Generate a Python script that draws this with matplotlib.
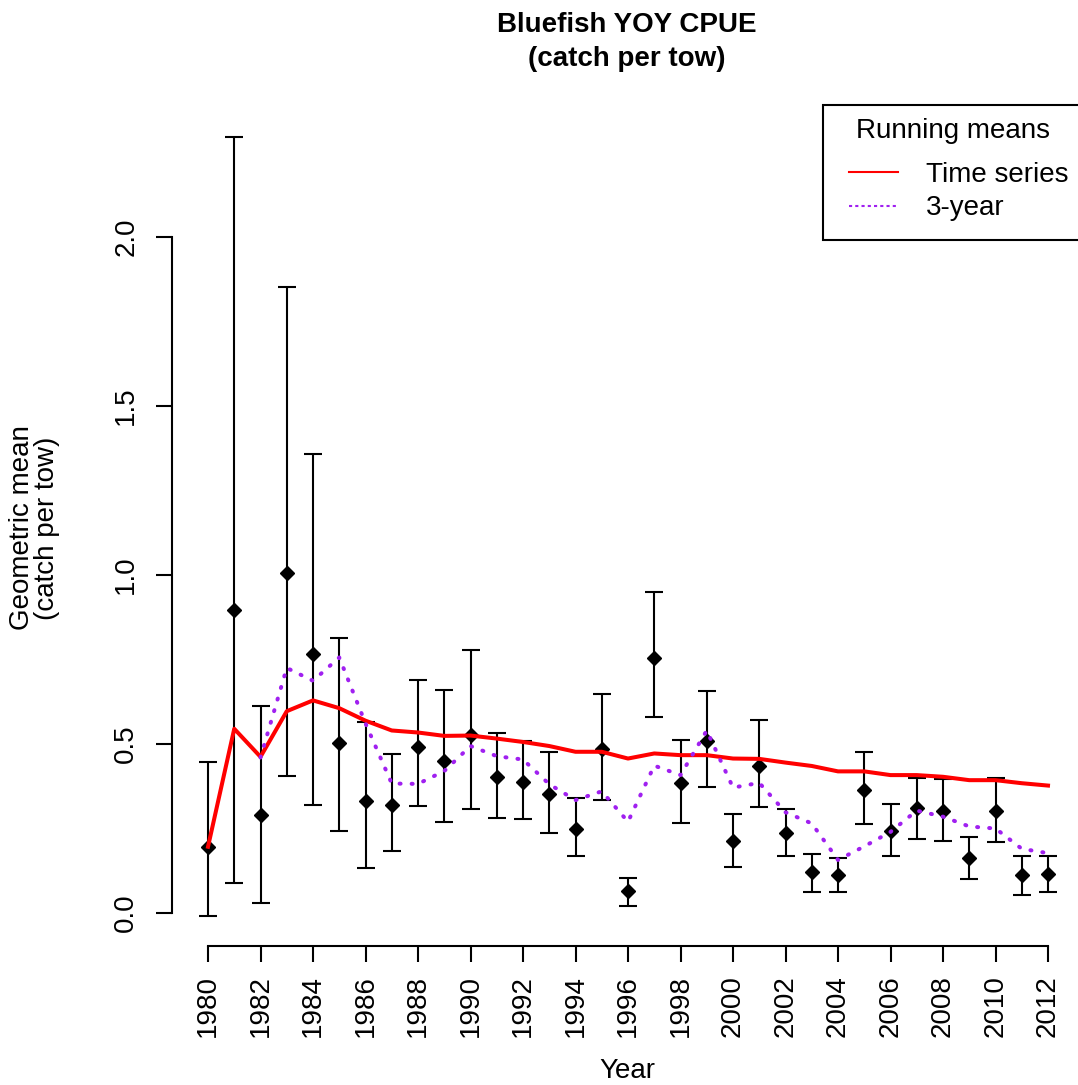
import numpy as np
import matplotlib
matplotlib.use("Agg")
import matplotlib.pyplot as plt
from matplotlib.lines import Line2D
from matplotlib.patches import Rectangle

plt.rcParams["font.family"] = ["Liberation Sans", "DejaVu Sans"]

years = np.arange(1980, 2013)

# geometric mean catch per tow with confidence limits
cpue = [0.196, 0.895, 0.289, 1.006, 0.767, 0.502, 0.332, 0.319, 0.491, 0.451,
        0.527, 0.403, 0.387, 0.352, 0.250, 0.484, 0.065, 0.754, 0.386, 0.510,
        0.214, 0.436, 0.238, 0.120, 0.111, 0.364, 0.243, 0.311, 0.301, 0.162,
        0.301, 0.112, 0.114]
upper = [0.446, 2.297, 0.613, 1.852, 1.358, 0.815, 0.565, 0.470, 0.690, 0.659,
         0.778, 0.533, 0.508, 0.475, 0.339, 0.648, 0.104, 0.951, 0.512, 0.658,
         0.293, 0.570, 0.308, 0.174, 0.164, 0.475, 0.323, 0.400, 0.397, 0.225,
         0.398, 0.168, 0.168]
lower = [-0.008, 0.090, 0.029, 0.404, 0.321, 0.242, 0.133, 0.184, 0.316, 0.268,
         0.309, 0.282, 0.277, 0.236, 0.168, 0.334, 0.022, 0.580, 0.266, 0.372,
         0.137, 0.314, 0.168, 0.063, 0.063, 0.262, 0.168, 0.220, 0.214, 0.101,
         0.209, 0.053, 0.063]

# running means
ts_mean = [0.196, 0.545, 0.462, 0.597, 0.629, 0.606, 0.569, 0.540, 0.534, 0.524,
           0.525, 0.516, 0.506, 0.494, 0.477, 0.477, 0.457, 0.472, 0.467, 0.467,
           0.457, 0.456, 0.445, 0.435, 0.419, 0.419, 0.408, 0.408, 0.403, 0.393,
           0.393, 0.384, 0.377]
yr3_years = np.arange(1982, 2013)
yr3_mean = [0.460, 0.725, 0.687, 0.756, 0.561, 0.383, 0.382, 0.420, 0.494, 0.464,
            0.454, 0.381, 0.334, 0.360, 0.270, 0.436, 0.408, 0.540, 0.371, 0.385,
            0.298, 0.265, 0.157, 0.197, 0.240, 0.303, 0.285, 0.256, 0.250, 0.190,
            0.177]

W, H = 1078, 1085
fig = plt.figure(figsize=(W / 100, H / 100), dpi=100)
ax = fig.add_axes([172 / W, (H - 946) / H, 906 / W, 841 / H])

cpue = np.array(cpue)
yerr = np.vstack([cpue - np.array(lower), np.array(upper) - cpue])

ax.plot(years, cpue, linestyle="none", marker="D", markersize=7,
        color="black", zorder=3)
ax.errorbar(years, cpue, yerr=yerr, fmt="none", ecolor="black",
            elinewidth=1.5, capsize=6.5, capthick=1.5, zorder=2)
ax.plot(years, ts_mean, color="#FF0000", lw=2.9, zorder=4)
ax.plot(yr3_years, yr3_mean, color="#A020F0", lw=2.9,
        dashes=(0.25, 2.75), dash_capstyle="round", zorder=5)

ax.set_xlim(1980 - 36 / 26.25, 1980 - 36 / 26.25 + 906 / 26.25)
ax.set_ylim(-33 / 338, -33 / 338 + 841 / 338)

for s in ["top", "right"]:
    ax.spines[s].set_visible(False)
ax.spines["left"].set_bounds(0, 2)
ax.spines["bottom"].set_bounds(1980, 2012)
for s in ["left", "bottom"]:
    ax.spines[s].set_linewidth(1.5)

ax.set_yticks([0, 0.5, 1.0, 1.5, 2.0])
ax.set_yticklabels(["0.0", "0.5", "1.0", "1.5", "2.0"], rotation=90,
                   va="center")
ax.set_xticks(np.arange(1980, 2013, 2))
ax.set_xticklabels([str(y) for y in range(1980, 2013, 2)], rotation=90)
ax.tick_params(axis="both", direction="out", length=11.5, width=1.5,
               labelsize=20)
ax.tick_params(axis="y", pad=12)
ax.tick_params(axis="x", pad=9.5)

fig.text(627 / W, 1 - 1078 / H, "Year", ha="center", va="baseline",
         fontsize=20)
fig.text(35 / W, 1 - 528 / H, "Geometric mean\n(catch per tow)",
         ha="center", va="center", rotation=90, fontsize=20,
         linespacing=0.95)
fig.text(627 / W, 1 - 42 / H, "Bluefish YOY CPUE\n(catch per tow)",
         ha="center", va="center", fontsize=20, fontweight="bold",
         linespacing=1.35)

# legend box runs off the right edge of the plot region
frame_left = (823 - 172) / 906
frame_bottom = (946 - 240) / 841
ax.add_patch(Rectangle((frame_left, frame_bottom), 1.05 - frame_left,
                       1.0 - frame_bottom, transform=ax.transAxes,
                       facecolor="white", edgecolor="black", lw=1.5,
                       clip_on=False, zorder=6))
ax.text((953 - 172) / 906, (946 - 131) / 841, "Running means",
        transform=ax.transAxes, ha="center", va="center", fontsize=20,
        zorder=7)

handles = [Line2D([], [], color="#FF0000", lw=1.5),
           Line2D([], [], color="#A020F0", lw=1.5, linestyle=(0, (1.5, 1.5)))]
leg = ax.legend(handles, ["Time series", "3-year"],
                loc="upper left", bbox_to_anchor=((849 - 172) / 906,
                                                  (946 - 161.8) / 841),
                borderaxespad=0, borderpad=0, fontsize=20, frameon=False,
                handlelength=1.76, handletextpad=1.0, labelspacing=0.27)
leg.set_zorder(8)

fig.savefig("out.png", dpi=100)
